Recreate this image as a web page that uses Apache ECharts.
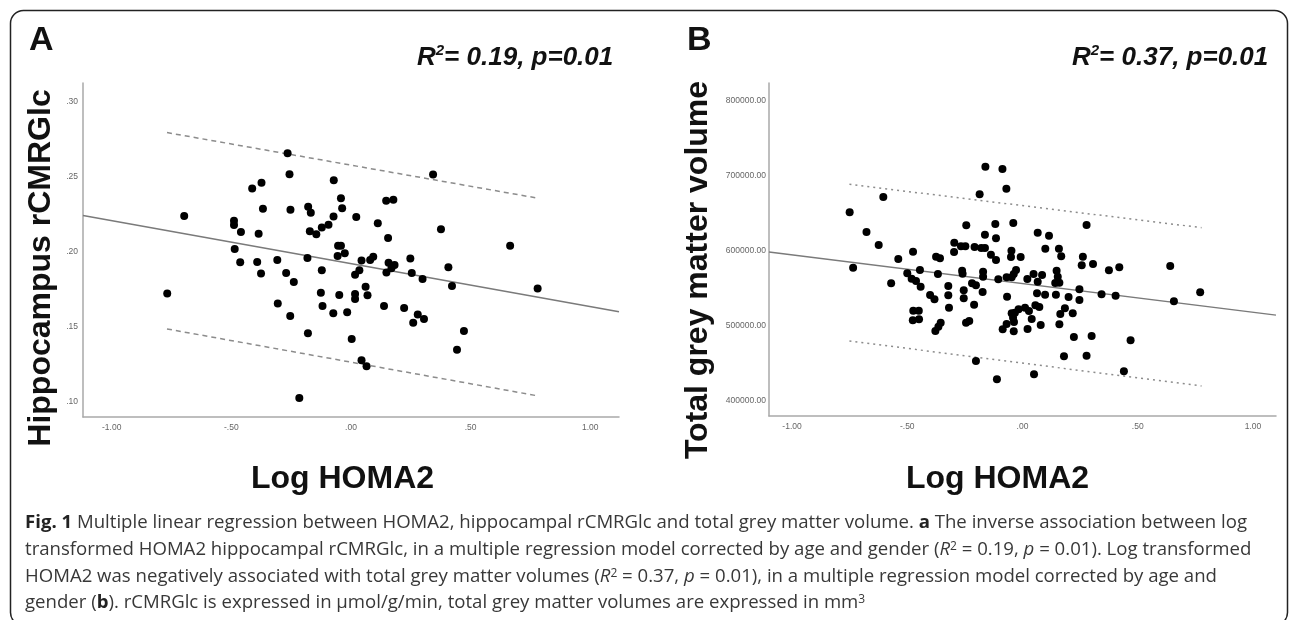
<!DOCTYPE html>
<html><head><meta charset="utf-8">
<script src="https://cdn.jsdelivr.net/npm/echarts@6/dist/echarts.min.js"></script>
<style>html,body{margin:0;padding:0;background:#fff}#c{width:1290px;height:620px}</style>
</head><body><div id="c"></div>
<script>
// ---------- data ----------
const xTickValues = [-1, -0.5, 0, 0.5, 1];
const xTickLabels = ['-1.00', '-.50', '.00', '.50', '1.00'];
const yTickValuesA = [0.10, 0.15, 0.20, 0.25, 0.30];
const yTickLabelsA = ['.10', '.15', '.20', '.25', '.30'];
const yTickValuesB = [400000, 500000, 600000, 700000, 800000];
const yTickLabelsB = ['400000.00', '500000.00', '600000.00', '700000.00', '800000.00'];

const xTitle = 'Log HOMA2';
const yTitleA = 'Hippocampus rCMRGlc';
const yTitleB = 'Total grey matter volume';
const statsA = ['0.19', '0.01'];
const statsB = ['0.37', '0.01'];

// Panel A: log HOMA2 vs hippocampus rCMRGlc
const pointsA = [
[-0.265,0.2658],[-0.257,0.2518],[-0.374,0.2462],[-0.413,0.2424],[-0.072,0.2478],[0.343,0.2516],
[-0.697,0.2240],[-0.368,0.2289],[-0.253,0.2282],[-0.179,0.2302],[-0.168,0.2262],[-0.042,0.2358],
[-0.037,0.2291],[-0.073,0.2236],[0.147,0.2342],[0.177,0.2349],[0.022,0.2233],[0.112,0.2191],
[-0.489,0.2209],[-0.489,0.2180],[-0.460,0.2133],[-0.386,0.2122],[-0.172,0.2138],[-0.145,0.2118],
[-0.122,0.2164],[-0.094,0.2182],[0.376,0.2151],[0.155,0.2093],[0.665,0.2042],[-0.486,0.2020],
[-0.054,0.2042],[-0.042,0.2042],[-0.056,0.1973],[-0.026,0.1991],[-0.182,0.1960],[-0.308,0.1947],
[-0.463,0.1931],[-0.392,0.1933],[-0.376,0.1856],[-0.271,0.1860],[-0.239,0.1800],[-0.122,0.1878],
[0.044,0.1944],[0.080,0.1947],[0.093,0.1969],[0.248,0.1956],[0.157,0.1929],[0.182,0.1913],
[0.169,0.1891],[0.148,0.1864],[0.035,0.1878],[0.017,0.1849],[0.254,0.1860],[0.299,0.1820],
[0.407,0.1898],[0.422,0.1773],[0.780,0.1756],[-0.768,0.1724],[-0.126,0.1729],[-0.049,0.1713],
[0.017,0.1720],[0.017,0.1687],[0.061,0.1769],[0.069,0.1711],[-0.306,0.1656],[-0.254,0.1573],
[-0.119,0.1640],[-0.074,0.1591],[-0.016,0.1598],[0.138,0.1640],[0.222,0.1627],[0.279,0.1584],
[0.305,0.1553],[0.260,0.1529],[0.472,0.1473],[0.443,0.1349],[-0.180,0.1458],[0.003,0.1420],
[0.044,0.1278],[0.065,0.1238],[-0.216,0.1027]
];
const fitA = [[-1.12, 0.2244], [1.12, 0.1601]];
const upperA = [[-0.769, 0.2796], [0.770, 0.2362]];
const lowerA = [[-0.769, 0.1487], [0.770, 0.1044]];

// Panel B: log HOMA2 vs total grey matter volume
const pointsB = [
[-0.161,712400],[-0.087,709300],[-0.070,683100],[-0.186,675600],[-0.604,672000],[-0.750,651600],
[-0.677,625300],[-0.624,608000],[-0.735,577800],[-0.570,556900],[-0.539,589300],[-0.475,599100],
[-0.500,570200],[-0.481,563100],[-0.462,560000],[-0.445,574700],[-0.442,552400],[-0.401,541300],
[-0.382,535600],[-0.375,592400],[-0.358,590200],[-0.367,569300],[-0.322,553300],[-0.322,540900],
[-0.319,524400],[-0.474,520400],[-0.450,520400],[-0.476,507600],[-0.449,508900],[-0.378,493300],
[-0.365,499100],[-0.355,504400],[-0.244,634200],[-0.296,611100],[-0.297,598700],[-0.267,606200],
[-0.248,606200],[-0.208,605300],[-0.179,604000],[-0.163,604000],[-0.163,621800],[-0.118,636000],
[-0.115,616900],[-0.040,637300],[-0.262,573800],[-0.260,569800],[-0.219,556900],[-0.202,554200],
[-0.171,572400],[-0.171,565800],[-0.173,545300],[-0.255,547600],[-0.255,536900],[-0.210,528400],
[-0.245,504400],[-0.231,506700],[-0.137,595100],[-0.115,588000],[-0.105,562200],[-0.067,539100],
[-0.069,564900],[-0.047,564900],[-0.038,569300],[-0.028,574700],[-0.048,600400],[-0.050,592000],
[-0.008,592000],[-0.047,516900],[-0.033,517800],[-0.017,522200],[0.011,524400],[0.028,520000],
[-0.041,511100],[-0.037,505300],[-0.069,502700],[-0.086,495600],[-0.038,492900],[0.022,496000],
[0.040,509300],[0.056,527600],[0.073,525300],[0.079,501300],[0.021,562700],[0.048,569300],
[0.066,559100],[0.085,568000],[0.063,543600],[0.098,541800],[0.145,541800],[0.142,557300],
[0.153,565800],[0.148,573800],[0.160,557800],[0.200,538700],[0.247,548900],[0.247,534700],
[0.184,523600],[0.164,516000],[0.218,516900],[0.160,502200],[0.066,624400],[0.115,620400],
[0.099,603100],[0.158,603100],[0.168,592900],[0.278,634700],[0.262,592400],[0.257,580900],
[0.306,582700],[0.375,574200],[0.420,578200],[0.343,542200],[0.404,540400],[0.641,580000],
[0.657,532900],[0.771,544900],[0.223,485300],[0.300,486700],[0.469,480900],[0.180,459600],
[0.278,460500],[0.440,439600],[-0.202,453300],[-0.111,428900],[0.050,435600]
];
const fitB = [[-1.1, 598700], [1.1, 514500]];
const upperB = [[-0.751, 688900], [0.777, 631100]];
const lowerB = [[-0.751, 480000], [0.777, 420000]];

const captionLines = [
  '{b|Fig. 1} Multiple linear regression between HOMA2, hippocampal rCMRGlc and total grey matter volume. {b|a} The inverse association between log',
  'transformed HOMA2 hippocampal rCMRGlc, in a multiple regression model corrected by age and gender ({i|R}{s|2} = 0.19, {i|p} = 0.01). Log transformed',
  'HOMA2 was negatively associated with total grey matter volumes ({i|R}{s|2} = 0.37, {i|p} = 0.01), in a multiple regression model corrected by age and',
  'gender ({b|b}). rCMRGlc is expressed in μmol/g/min, total grey matter volumes are expressed in mm{s|3}'
];

// ---------- chart ----------
const FONT = '"Liberation Sans", Arial, sans-serif';
function labelFor(values, labels) {
  return function (v) {
    for (let i = 0; i < values.length; i++) {
      if (Math.abs(values[i] - v) <= 1e-6 * Math.max(1, Math.abs(values[i]))) return labels[i];
    }
    return '';
  };
}
function xAxisCfg(gridIndex) {
  return {
    type: 'value', gridIndex, min: -1.12 + (gridIndex ? 0.02 : 0), max: 1.12 - (gridIndex ? 0.02 : 0),
    splitLine: { show: false },
    axisLine: { show: true, onZero: false, lineStyle: { color: '#a9a9a9', width: 1.5 } },
    axisTick: { show: false },
    axisLabel: {
      customValues: xTickValues, formatter: labelFor(xTickValues, xTickLabels),
      color: '#666', fontSize: 8.5, fontFamily: FONT, margin: 6
    }
  };
}
function yAxisCfg(gridIndex, min, max, vals, labs, margin) {
  return {
    type: 'value', gridIndex, min, max,
    splitLine: { show: false },
    axisLine: { show: true, onZero: false, lineStyle: { color: '#a9a9a9', width: 1.5 } },
    axisTick: { show: false },
    axisLabel: {
      customValues: vals, formatter: labelFor(vals, labs),
      color: '#666', fontSize: 8.5, fontFamily: FONT, margin
    }
  };
}
function scatter(i, data) {
  return { type: 'scatter', xAxisIndex: i, yAxisIndex: i, data, symbolSize: 8,
    itemStyle: { color: '#000', opacity: 1 }, z: 5, silent: true };
}
function line(i, data, color, type) {
  return { type: 'line', xAxisIndex: i, yAxisIndex: i, data, showSymbol: false, symbol: 'none',
    lineStyle: { color, width: 1.5, type }, z: 3, silent: true };
}

const CAP = '"Open Sans", sans-serif';
const capRich = {
  n: { font: '18.6px ' + CAP, fill: '#383838' },
  b: { font: 'bold 18.6px ' + CAP, fill: '#222' },
  i: { font: 'italic 18.6px ' + CAP, fill: '#383838' },
  s: { font: '12px ' + CAP, fill: '#383838', verticalAlign: 'top', lineHeight: 12 }
};
const capY = [523, 550, 577, 603];

function statText(x, stats) {
  return {
    type: 'text', x, y: 57, silent: true,
    style: {
      text: '{r|R}{s|2}{r|= ' + stats[0] + ', p=' + stats[1] + '}',
      textVerticalAlign: 'middle',
      rich: {
        r: { font: 'italic bold 26px ' + FONT, fill: '#111', lineHeight: 28, verticalAlign: 'bottom' },
        s: { font: 'italic bold 15px ' + FONT, fill: '#111', lineHeight: 14, verticalAlign: 'top' }
      }
    }
  };
}

const graphic = [
  { type: 'rect', silent: true, z: -10, shape: { x: 10.5, y: 10.5, width: 1277, height: 615, r: 13 },
    style: { fill: 'none', stroke: '#222', lineWidth: 1.5 } },
  { type: 'text', x: 29, y: 41, silent: true, style: { text: 'A', font: 'bold 34px ' + FONT, fill: '#111', textVerticalAlign: 'middle' } },
  { type: 'text', x: 687, y: 41, silent: true, style: { text: 'B', font: 'bold 34px ' + FONT, fill: '#111', textVerticalAlign: 'middle' } },
  statText(417, statsA),
  statText(1072, statsB),
  { type: 'text', x: 41, y: 268, rotation: Math.PI / 2, silent: true,
    style: { text: yTitleA, font: 'bold 32px ' + FONT, fill: '#111', textAlign: 'center', textVerticalAlign: 'middle' } },
  { type: 'text', x: 698.5, y: 270, rotation: Math.PI / 2, silent: true,
    style: { text: yTitleB, font: 'bold 32px ' + FONT, fill: '#111', textAlign: 'center', textVerticalAlign: 'middle' } },
  { type: 'text', x: 342.5, y: 479, silent: true,
    style: { text: xTitle, font: 'bold 32px ' + FONT, fill: '#111', textAlign: 'center', textVerticalAlign: 'middle' } },
  { type: 'text', x: 997.5, y: 479, silent: true,
    style: { text: xTitle, font: 'bold 32px ' + FONT, fill: '#111', textAlign: 'center', textVerticalAlign: 'middle' } }
].concat(captionLines.map((t, k) => ({
  type: 'text', x: 25, y: capY[k], silent: true,
  style: { text: '{n|' + t.replace(/\{(\w)\|([^}]*)\}/g, '}{$1|$2}{n|') + '}', textVerticalAlign: 'middle', rich: capRich }
})));

const option = {
  animation: false,
  backgroundColor: '#fff',
  grid: [
    { left: 83, top: 83, width: 536, height: 334 },
    { left: 769, top: 83, width: 507, height: 333 }
  ],
  xAxis: [xAxisCfg(0), xAxisCfg(1)],
  yAxis: [
    yAxisCfg(0, 0.09, 0.31267, yTickValuesA, yTickLabelsA, 5),
    yAxisCfg(1, 380000, 824000, yTickValuesB, yTickLabelsB, 3)
  ],
  series: [
    scatter(0, pointsA),
    line(0, fitA, '#7a7a7a', 'solid'),
    line(0, upperA, '#8c8c8c', [5, 4]),
    line(0, lowerA, '#8c8c8c', [5, 4]),
    scatter(1, pointsB),
    line(1, fitB, '#7a7a7a', 'solid'),
    line(1, upperB, '#8c8c8c', [2, 4]),
    line(1, lowerB, '#8c8c8c', [2, 4])
  ],
  graphic
};
const chart = echarts.init(document.getElementById('c'), null, { renderer: 'canvas' });
chart.setOption(option);
</script>
</body></html>
